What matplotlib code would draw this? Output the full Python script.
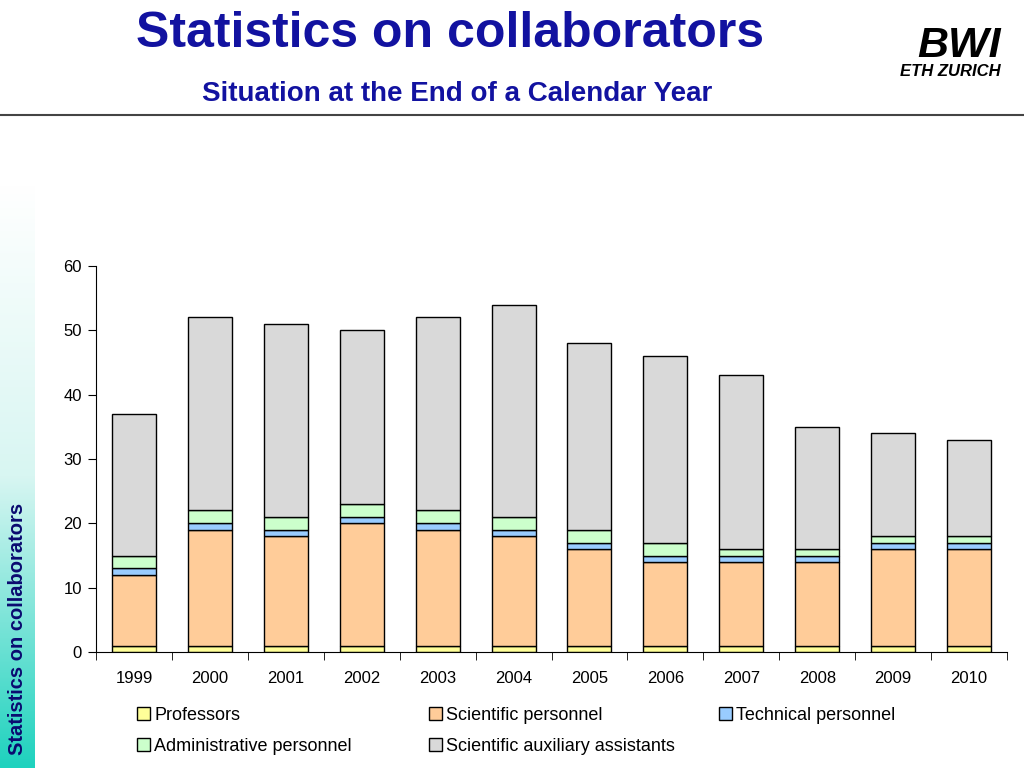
import numpy as np
import matplotlib
matplotlib.use('Agg')
import matplotlib.pyplot as plt
from matplotlib.colors import LinearSegmentedColormap
from matplotlib.patches import Patch

plt.rcParams['font.family'] = ['Liberation Sans', 'DejaVu Sans']

# data
years = ['1999', '2000', '2001', '2002', '2003', '2004', '2005', '2006', '2007', '2008', '2009', '2010']
professors = [1, 1, 1, 1, 1, 1, 1, 1, 1, 1, 1, 1]
scientific = [11, 18, 17, 19, 18, 17, 15, 13, 13, 13, 15, 15]
technical = [1, 1, 1, 1, 1, 1, 1, 1, 1, 1, 1, 1]
administrative = [2, 2, 2, 2, 2, 2, 2, 2, 1, 1, 1, 1]
auxiliary = [22, 30, 30, 27, 30, 33, 29, 29, 27, 19, 16, 15]

series = [
    ('Professors', professors, '#ffff99'),
    ('Scientific personnel', scientific, '#ffcc99'),
    ('Technical personnel', technical, '#99ccff'),
    ('Administrative personnel', administrative, '#ccffcc'),
    ('Scientific auxiliary assistants', auxiliary, '#d9d9d9'),
]

fig = plt.figure(figsize=(10.24, 7.68), dpi=100)

# left gradient strip
side = fig.add_axes([0, 0, 35 / 1024, 583 / 768])
cmap = LinearSegmentedColormap.from_list('strip', ['#ffffff', '#d8f6f2', '#1ed2be'])
side.imshow(np.linspace(0, 1, 256).reshape(-1, 1), aspect='auto', cmap=cmap)
side.set_axis_off()
fig.text(18 / 1024, 13 / 768, 'Statistics on collaborators', rotation=90, ha='center', va='bottom',
         color='#0a0a70', fontsize=14.5, fontweight='bold')

# header
fig.text(450 / 1024, 1 - 47 / 768, 'Statistics on collaborators', ha='center', va='baseline',
         color='#1212a0', fontsize=36, fontweight='bold')
fig.text(457 / 1024, 1 - 101 / 768, 'Situation at the End of a Calendar Year', ha='center', va='baseline',
         color='#1212a0', fontsize=20, fontweight='bold')
fig.add_artist(plt.Line2D([0, 1], [1 - 115 / 768, 1 - 115 / 768], color='#444444', lw=1.5))
fig.text(959 / 1024, 1 - 57 / 768, 'BWI', ha='center', va='baseline', color='black',
         fontsize=31, fontweight='black', style='italic')
fig.text(950 / 1024, 1 - 76 / 768, 'ETH ZURICH', ha='center', va='baseline', color='black',
         fontsize=12, fontweight='bold', style='italic')

# chart
ax = fig.add_axes([96 / 1024, 116 / 768, 911 / 1024, 386 / 768])
x = np.arange(len(years))
bottom = np.zeros(len(years))
handles = []
for name, vals, col in series:
    ax.bar(x, vals, bottom=bottom, width=0.58, color=col, edgecolor='black', linewidth=1)
    bottom += np.array(vals)
    handles.append(Patch(facecolor=col, edgecolor='black', linewidth=1, label=name))

ax.set_xlim(-0.5, len(years) - 0.5)
ax.set_ylim(0, 60)
ax.set_yticks(range(0, 61, 10))
ax.tick_params(axis='y', direction='out', length=6, labelsize=12, pad=4)
ax.set_xticks(x)
ax.set_xticklabels(years)
ax.set_xticks(np.arange(-0.5, len(years), 1), minor=True)
ax.tick_params(axis='x', which='major', length=0, labelsize=12, pad=14)
ax.tick_params(axis='x', which='minor', direction='out', length=6)
for s in ['top', 'right']:
    ax.spines[s].set_visible(False)

# legend in three columns
cols = [(137, [0, 3]), (429, [1, 4]), (719, [2])]
for xpos, idx in cols:
    fig.legend([handles[i] for i in idx], [handles[i].get_label() for i in idx],
               loc='upper left', bbox_to_anchor=(xpos / 1024, 1 - 707 / 768), frameon=False,
               fontsize=13, handlelength=0.7, handleheight=0.7, handletextpad=0.25,
               labelspacing=0.75, borderpad=0, borderaxespad=0)

fig.savefig('out.png', dpi=100)
